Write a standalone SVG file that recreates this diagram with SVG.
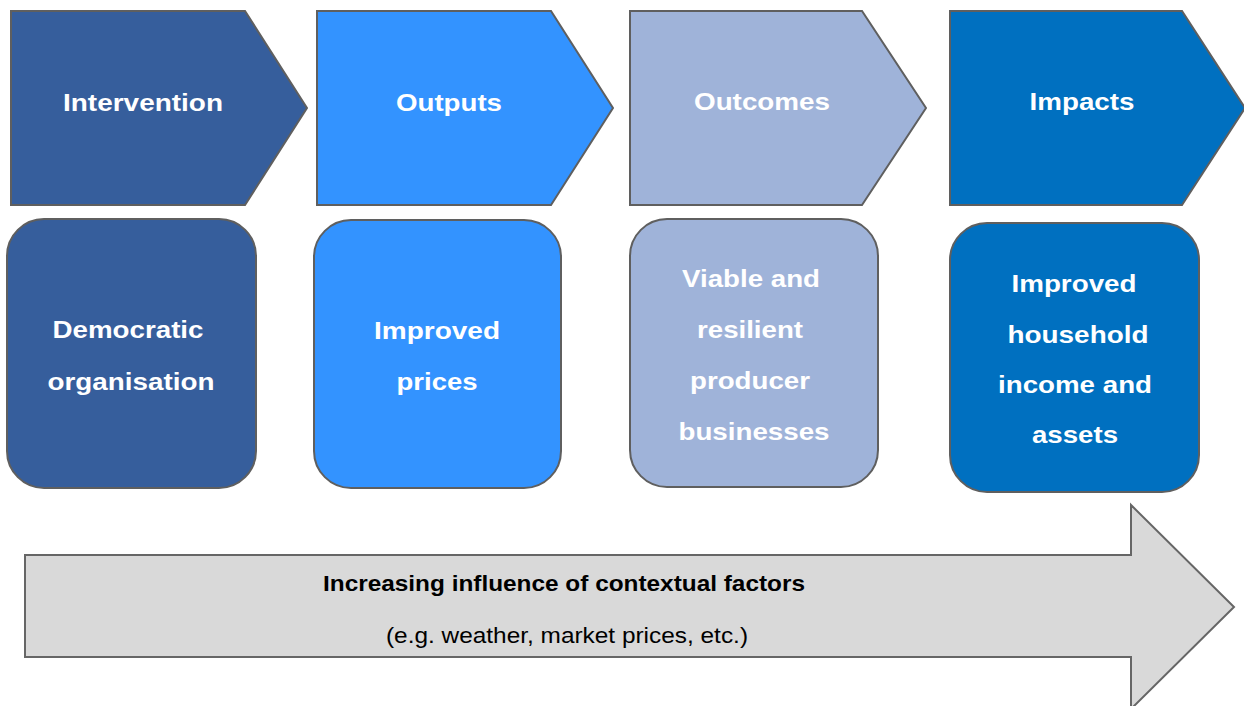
<svg xmlns="http://www.w3.org/2000/svg" width="1244" height="706" viewBox="0 0 1244 706">
<style>
.shp{stroke:#5f5f5f;stroke-width:2;stroke-linejoin:miter}
.t{font-family:"Liberation Sans",Arial,sans-serif;font-weight:bold;font-size:24.5px;fill:#ffffff;text-anchor:middle}
.b{font-family:"Liberation Sans",Arial,sans-serif;font-size:22.5px;fill:#000000;text-anchor:middle}
.c1{fill:#365E9C}
.c2{fill:#3393FF}
.c3{fill:#9FB3D9}
.c4{fill:#0070C0}
</style>
<rect width="1244" height="706" fill="#ffffff"/>
<g id="chevron-intervention">
<polygon class="shp c1" points="11,11 245,11 307,108 245,205 11,205"/>
<text class="t" x="143" y="111" textLength="160" lengthAdjust="spacingAndGlyphs">Intervention</text>
</g>
<g id="chevron-outputs">
<polygon class="shp c2" points="317,11 551,11 613,108 551,205 317,205"/>
<text class="t" x="449" y="111" textLength="106" lengthAdjust="spacingAndGlyphs">Outputs</text>
</g>
<g id="chevron-outcomes">
<polygon class="shp c3" points="630,11 862,11 926,108 862,205 630,205"/>
<text class="t" x="762" y="110" textLength="136" lengthAdjust="spacingAndGlyphs">Outcomes</text>
</g>
<g id="chevron-impacts">
<polygon class="shp c4" points="950,11 1182,11 1245,108 1182,205 950,205"/>
<text class="t" x="1082" y="110" textLength="105" lengthAdjust="spacingAndGlyphs">Impacts</text>
</g>
<g id="box-democratic">
<rect class="shp c1" x="7" y="219" width="249" height="269" rx="37" ry="37"/>
<text class="t" x="128" y="338" textLength="151" lengthAdjust="spacingAndGlyphs">Democratic</text>
<text class="t" x="131" y="390" textLength="167" lengthAdjust="spacingAndGlyphs">organisation</text>
</g>
<g id="box-prices">
<rect class="shp c2" x="314" y="220" width="247" height="268" rx="37" ry="37"/>
<text class="t" x="437" y="339" textLength="126" lengthAdjust="spacingAndGlyphs">Improved</text>
<text class="t" x="437" y="390" textLength="81" lengthAdjust="spacingAndGlyphs">prices</text>
</g>
<g id="box-businesses">
<rect class="shp c3" x="630" y="219" width="248" height="268" rx="37" ry="37"/>
<text class="t" x="751" y="287" textLength="138" lengthAdjust="spacingAndGlyphs">Viable and</text>
<text class="t" x="750" y="338" textLength="106" lengthAdjust="spacingAndGlyphs">resilient</text>
<text class="t" x="750" y="389" textLength="120" lengthAdjust="spacingAndGlyphs">producer</text>
<text class="t" x="754" y="440" textLength="151" lengthAdjust="spacingAndGlyphs">businesses</text>
</g>
<g id="box-household">
<rect class="shp c4" x="950" y="223" width="249" height="269" rx="37" ry="37"/>
<text class="t" x="1074" y="292" textLength="125" lengthAdjust="spacingAndGlyphs">Improved</text>
<text class="t" x="1078" y="343" textLength="141" lengthAdjust="spacingAndGlyphs">household</text>
<text class="t" x="1075" y="393" textLength="154" lengthAdjust="spacingAndGlyphs">income and</text>
<text class="t" x="1075" y="443" textLength="86" lengthAdjust="spacingAndGlyphs">assets</text>
</g>
<g id="arrow-context">
<polygon points="25,555 1131,555 1131,505 1234,607 1131,709 1131,657 25,657" fill="#D9D9D9" stroke="#666666" stroke-width="2"/>
<text class="b" x="564" y="591" font-weight="bold" textLength="482" lengthAdjust="spacingAndGlyphs">Increasing influence of contextual factors</text>
<text class="b" x="567" y="643" textLength="362" lengthAdjust="spacingAndGlyphs">(e.g. weather, market prices, etc.)</text>
</g>
<g id="connectors"></g>
</svg>
